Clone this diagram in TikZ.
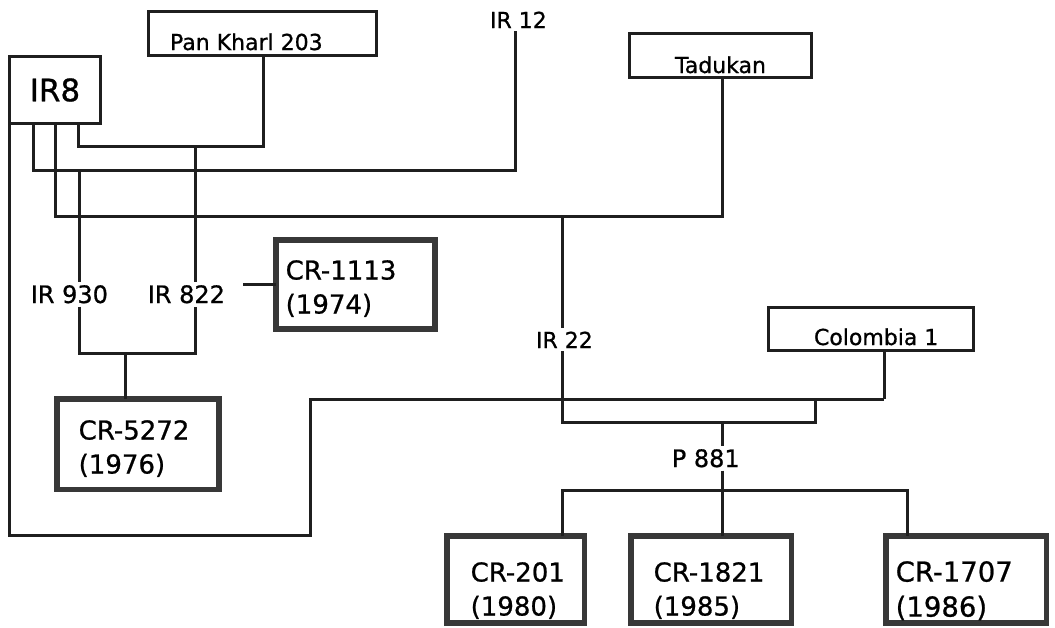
\documentclass[tikz,border=0pt]{standalone}
\usepackage{fontspec}
\setmainfont{DejaVu Sans}[FakeBold=0.8]
\newcommand{\myfs}[1]{\fontsize{#1}{#1}\selectfont}
\tikzset{
  ln/.style={draw=black!88, line width=3pt},
  thinbox/.style={draw=black!88, line width=3.2pt, inner sep=0pt, outer sep=0pt},
  thickbox/.style={draw=black!78, line width=5.8pt, inner sep=0pt, outer sep=0pt},
  onln/.style={inner xsep=0pt, inner ysep=3pt, anchor=base west},
  boxtxt/.style={inner sep=0pt, anchor=base west, font=\myfs{22}},
  crtxt/.style={inner sep=0pt, anchor=north west, align=left, font=\fontsize{26}{34}\selectfont},
}
\begin{document}
\begin{tikzpicture}[x=1pt,y=-1pt]
\fill[white] (0,0) rectangle (1055,627);
\useasboundingbox (0,0) rectangle (1055,627);
% thin boxes
\node[thinbox, minimum width=227.8pt, minimum height=43.8pt] (pk) at (262.5,33.5) {};
\node[thinbox, minimum width=90.8pt, minimum height=66.8pt, font=\myfs{31}] (ir8) at (55,90) {IR8};
\node[thinbox, minimum width=181.8pt, minimum height=43.8pt] (tad) at (720.5,55.5) {};
\node[thinbox, minimum width=204.8pt, minimum height=42.8pt] (col) at (871,329) {};
% thick boxes
\node[thickbox, minimum width=159.2pt, minimum height=89.2pt] (cr1113) at (355.2,284.2) {};
\node[thickbox, minimum width=161.6pt, minimum height=90.8pt] (cr5272) at (138,444) {};
\node[thickbox, minimum width=137.5pt, minimum height=87.5pt] (cr201) at (515.7,579.4) {};
\node[thickbox, minimum width=160.8pt, minimum height=87.5pt] (cr1821) at (711,579.4) {};
\node[thickbox, minimum width=160.8pt, minimum height=87.5pt] (cr1707) at (966,579.4) {};
% texts in boxes
\node[boxtxt] (pkt) at (169.8,50) {Pan Kharl 203};
\node[boxtxt] (tadt) at (674.8,73) {Tadukan};
\node[boxtxt] (colt) at (813.8,345) {Colombia 1};
\node[crtxt] (t1113) at (285.5,260) {CR-1113\\(1974)};
\node[crtxt] (t5272) at (78.5,420) {CR-5272\\(1976)};
\node[crtxt] (t201) at (470.5,562) {CR-201\\(1980)};
\node[crtxt] (t1821) at (653.5,562) {CR-1821\\(1985)};
\node[crtxt, font=\fontsize{27.5}{35}\selectfont] (t1707) at (895.5,561) {CR-1707\\(1986)};
% labels on lines
\node[onln, font=\myfs{22}] (ir12) at (489.8,28) {IR 12};
\node[onln, font=\myfs{24}] (ir930) at (30.6,303) {IR 930};
\node[onln, font=\myfs{24}] (ir822) at (147.6,303) {IR 822};
\node[onln, font=\myfs{22}] (ir22) at (535.8,348) {IR 22};
\node[onln, font=\myfs{24}] (p881) at (671.6,467) {P 881};
% junctions
\coordinate (jcol) at (884,399);
\coordinate (j12) at (515,170);
\coordinate (jtad) at (722,216);
\coordinate (jpk) at (263,146);
\coordinate (j930) at (79,170);
\coordinate (j822) at (195,146);
\coordinate (j22) at (562,216);
\coordinate (jp) at (815,422);
\coordinate (jp881) at (722,422);
% connectors
\draw[ln] (ir8.south west) |- (310,535) |- (jcol);
\draw[ln] (col.south -| jcol) -- (jcol);
\draw[ln] (ir8.south -| 33,0) |- (j12) -- (ir12.south -| j12);
\draw[ln] (ir8.south -| 55,0) |- (jtad) -- (tad.south -| jtad);
\draw[ln] (ir8.south -| 78,0) |- (jpk) -- (pk.south -| jpk);
\draw[ln] (j930) -- (ir930.north -| j930);
\draw[ln] (ir930.south -| j930) -- (79,353) -- (195,353) -- (ir822.south -| j822);
\draw[ln] (ir822.north -| j822) -- (j822);
\draw[ln] (cr5272.north -| 125,0) -- (125,353);
\draw[ln] (cr1113.west) -- ++(-33,0);
\draw[ln] (j22) -- (ir22.north -| j22);
\draw[ln] (ir22.south -| j22) |- (jp) -- (jp |- jcol);
\draw[ln] (jp881) -- (p881.north -| jp881);
\draw[ln] (p881.south -| jp881) -- (cr1821.north -| jp881);
\draw[ln] (cr201.north -| 562,0) |- (907,490) -- (cr1707.north -| 907,0);
\end{tikzpicture}
\end{document}
